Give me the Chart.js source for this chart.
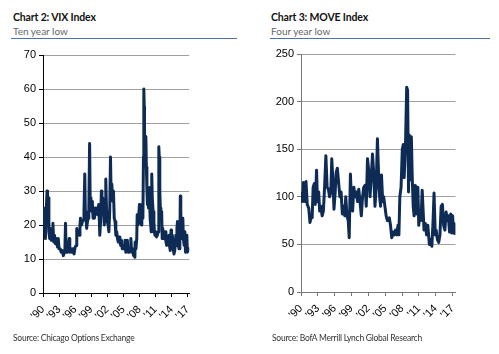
<!DOCTYPE html>
<html>
<head>
<meta charset="utf-8">
<script src="https://cdn.jsdelivr.net/npm/chart.js@4"></script>
<style>
  body { margin:0; width:499px; height:354px; background:#fff; position:relative; overflow:hidden; font-family:Lato, "Liberation Sans", sans-serif; }
  .title { position:absolute; font-weight:bold; font-size:10.5px; letter-spacing:-0.15px; color:#111; }
  .sub { position:absolute; font-size:10px; color:#666; }
  .rule { position:absolute; height:1px; background:#4f73a8; }
  .src { position:absolute; font-size:8.5px; letter-spacing:-0.25px; color:#333; }
  .box { position:absolute; }
</style>
</head>
<body>
<div class="title" style="left:13px;top:11px">Chart 2: VIX Index</div>
<div class="sub" style="left:13px;top:25px">Ten year low</div>
<div class="rule" style="left:11px;top:38px;width:226px"></div>

<div class="title" style="left:271px;top:11px">Chart 3: MOVE Index</div>
<div class="sub" style="left:271px;top:25px">Four year low</div>
<div class="rule" style="left:270px;top:38px;width:220px"></div>

<div class="box" style="left:0;top:45px;width:203px;height:290px"><canvas id="vix"></canvas></div>
<div class="box" style="left:258px;top:44px;width:210px;height:290px"><canvas id="move"></canvas></div>

<div class="src" style="left:13px;top:333px">Source: Chicago Options Exchange</div>
<div class="src" style="left:272px;top:333px">Source: BofA Merrill Lynch Global Research</div>

<script>
// ---------- data ----------
const tickYears = [1990,1993,1996,1999,2002,2005,2008,2011,2014,2017];
const tickLabels = ["'90","'93","'96","'99","'02","'05","'08","'11","'14","'17"];

// Chart 2: VIX
const vixYears = [1990.0,1990.15,1990.3,1990.45,1990.6,1990.75,1990.85,1991.0,1991.1,1991.25,1991.4,1991.55,1991.7,1991.85,
  1992.0,1992.15,1992.3,1992.5,1992.7,1992.85,1993.0,1993.2,1993.4,1993.6,1993.8,1994.0,1994.1,1994.2,1994.3,1994.5,1994.7,1994.9,
  1995.0,1995.2,1995.4,1995.6,1995.8,1996.0,1996.2,1996.3,1996.45,1996.6,1996.75,1996.9,1997.0,1997.2,1997.35,1997.5,1997.65,1997.8,1997.9,
  1998.0,1998.15,1998.3,1998.45,1998.55,1998.7,1998.8,1998.95,1999.1,1999.2,1999.35,1999.5,1999.6,1999.75,1999.9,
  2000.05,2000.2,2000.4,2000.5,2000.6,2000.75,2000.9,2001.0,2001.15,2001.3,2001.45,2001.6,2001.72,2001.85,
  2002.0,2002.15,2002.3,2002.45,2002.6,2002.7,2002.85,2003.0,2003.15,2003.3,2003.45,2003.6,2003.75,2003.9,
  2004.05,2004.2,2004.35,2004.5,2004.65,2004.8,2005.0,2005.15,2005.3,2005.45,2005.6,2005.75,2005.9,
  2006.1,2006.25,2006.4,2006.55,2006.7,2006.9,2007.05,2007.15,2007.2,2007.35,2007.5,2007.58,2007.7,2007.85,
  2008.0,2008.1,2008.2,2008.35,2008.45,2008.55,2008.65,2008.75,2008.82,2008.9,2008.95,2009.1,2009.2,2009.3,2009.4,2009.5,2009.6,2009.7,2009.85,
  2010.0,2010.1,2010.2,2010.3,2010.4,2010.55,2010.7,2010.8,2010.9,2011.05,2011.2,2011.35,2011.5,2011.62,2011.7,2011.8,2011.9,
  2012.0,2012.15,2012.25,2012.35,2012.5,2012.65,2012.8,2012.95,2013.1,2013.25,2013.4,2013.5,2013.6,2013.75,2013.9,
  2014.0,2014.15,2014.3,2014.45,2014.6,2014.8,2014.9,2015.0,2015.1,2015.25,2015.4,2015.55,2015.63,2015.72,2015.85,
  2016.0,2016.1,2016.2,2016.35,2016.45,2016.5,2016.6,2016.75,2016.85,2016.95,2017.1,2017.25];
const vixValues = [25,19,22,16,24,30,26,28,18,16,19,15.5,16,20.5,
  15,17,14.5,16,13.5,16,13,13,12,12.5,11,12,13.5,20.5,14,12,13,16,
  12,13,12,13,11.5,13.5,14,19,17,18,17,20,22,20,21,21.5,24,35,24,
  23,19,21,22,24,44,28,26,24,27,22,25,22,25,24,
  25,23,26,22,17,21,30,24,28,24,20,27,33.5,25,
  21,20,18,24,40,30,32,27,30,22,21,17,18,16,
  15,16.5,15,14,15.5,13,13,14,15.5,12,14,15.5,12,
  12,13,16,12,13,11,11,10.5,15,13,16,23,20,22,
  26,25,21,20,24,26,22,40,60,55,45,44,46,37,30,26,28,25,31,
  22,20,18,35,28,24,21,18,17,18,16.5,17,18,43,40,30,25,
  22,24,16,19,17,16,18,15,14,16,15,17,14,12.5,18.5,
  14,17,13,11.5,12.5,17,14,19,21,14,13,15,28.5,24,16,
  20.5,22,16,14,15,18,12,14,17,12,13,12.5];

// Chart 3: MOVE
const moveYears = [1990.0,1990.28,1990.44,1990.72,1990.89,1991.11,1991.38,1991.6,1991.83,1991.99,1992.16,1992.38,1992.55,1992.77,1992.93,
  1993.15,1993.32,1993.54,1993.76,1993.98,1994.2,1994.43,1994.65,1994.87,1995.09,1995.31,1995.48,1995.7,1995.87,
  1996.09,1996.25,1996.47,1996.7,1996.92,1997.14,1997.36,1997.58,1997.8,1997.97,1998.19,1998.41,1998.58,1998.8,
  1999.02,1999.19,1999.41,1999.63,1999.85,2000.07,2000.29,2000.51,2000.74,2000.96,2001.18,2001.4,2001.62,2001.84,
  2002.06,2002.29,2002.51,2002.73,2002.95,2003.17,2003.39,2003.61,2003.83,2004.0,2004.17,2004.33,2004.55,2004.72,2004.94,
  2005.16,2005.38,2005.72,2005.94,2006.16,2006.38,2006.6,2006.82,2007.04,2007.27,2007.43,2007.6,2007.82,
  2008.04,2008.21,2008.37,2008.59,2008.82,2008.98,2009.15,2009.26,2009.48,2009.65,2009.81,2009.98,
  2010.14,2010.37,2010.59,2010.81,2010.97,2011.2,2011.36,2011.58,2011.75,2011.91,2012.14,2012.36,2012.58,2012.86,
  2013.08,2013.3,2013.52,2013.69,2013.91,2014.07,2014.29,2014.52,2014.74,2014.96,2015.18,2015.4,2015.62,2015.84,
  2016.06,2016.23,2016.45,2016.67,2016.84,2017.0,2017.15,2017.3,2017.45];
const moveValues = [105,95,115,95,116,92,88,73,80,78,110,114,92,128,95,
  105,85,90,80,85,110,143,110,108,100,105,140,115,87,
  105,125,130,115,100,105,82,90,80,100,80,75,57,124,
  90,85,110,100,105,95,108,95,80,100,110,112,90,140,
  128,100,120,145,125,90,110,161,120,100,90,123,95,100,90,
  80,75,78,70,57,63,60,65,60,70,60,100,110,
  150,155,120,150,215,212,105,165,118,163,120,90,
  80,112,82,110,70,85,75,107,85,65,72,60,70,50,
  55,48,75,104,60,65,55,52,60,90,92,70,65,84,
  75,80,63,82,62,80,62,72,60];

// ---------- charts ----------
function makeChart(id, years, values, yMax, yStep, xMax, axisColor) {
  return new Chart(document.getElementById(id), {
    type: "line",
    data: {
      datasets: [{
        data: years.map((y, i) => ({ x: y, y: values[i] })),
        borderColor: "#0d2b55",
        borderWidth: 3,
        pointRadius: 0,
        tension: 0,
        borderJoinStyle: "round"
      }]
    },
    options: {
      animation: false,
      responsive: true,
      maintainAspectRatio: false,
      layout: { padding: { top: 10, right: 2, left: 0, bottom: 0 } },
      plugins: { legend: { display: false }, tooltip: { enabled: false } },
      scales: {
        x: {
          type: "linear",
          min: 1990,
          max: xMax,
          afterBuildTicks: s => { s.ticks = tickYears.map(v => ({ value: v })); },
          afterFit: s => { s.height = 42; },
          ticks: {
            minRotation: 45, maxRotation: 45, autoSkip: false,
            color: "#000", font: { size: 11, family: "Liberation Sans" },
            padding: 6,
            callback: v => tickLabels[tickYears.indexOf(v)]
          },
          grid: { drawOnChartArea: false, drawTicks: true, tickLength: 4, color: axisColor },
          border: { color: axisColor, width: 1 }
        },
        y: {
          min: 0, max: yMax,
          afterFit: s => { s.width = 43; },
          ticks: { stepSize: yStep, color: "#000", font: { size: 11, family: "Liberation Sans" }, padding: 3 },
          grid: { color: "#a0a0a0", borderDash: [1, 1], tickColor: axisColor, tickLength: 4, tickBorderDash: [] },
          border: { color: axisColor, width: 1 }
        }
      }
    }
  });
}

makeChart("vix", vixYears, vixValues, 70, 10, 2017.3, "#000");
makeChart("move", moveYears, moveValues, 250, 50, 2017.5, "#777");
</script>
</body>
</html>
